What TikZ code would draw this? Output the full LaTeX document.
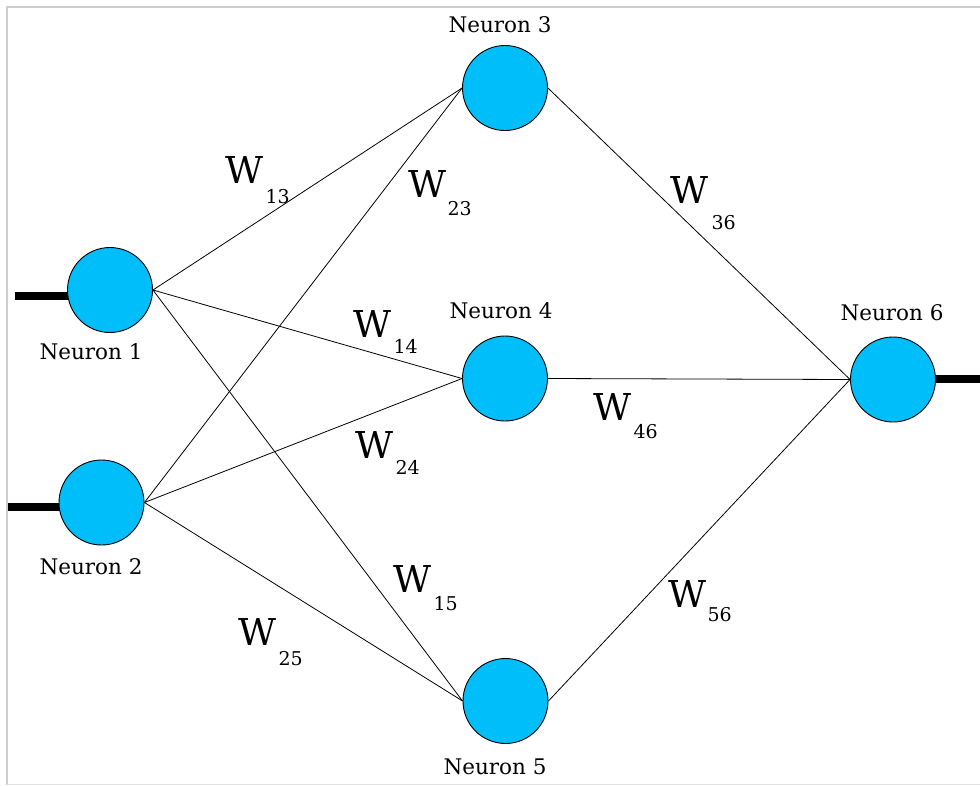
\documentclass[tikz,border=0pt]{standalone}
\usepackage{fontspec}
\newfontfamily\labelft{DejaVu Serif}
\pgfdeclarelayer{bg}
\pgfsetlayers{bg,main}
\definecolor{neuronblue}{RGB}{0,190,250}
\definecolor{frame}{RGB}{205,205,205}
\tikzset{
  neuron/.style={circle, draw=black, line width=0.9pt, fill=neuronblue, minimum size=85pt, inner sep=0pt},
  nlabel/.style={anchor=base, inner sep=0pt, font=\labelft\fontsize{21.5}{22}\selectfont},
  wmain/.style={anchor=base west, inner sep=0pt, font=\labelft\fontsize{37}{37}\selectfont},
  wsub/.style={anchor=base west, inner sep=0pt, font=\labelft\fontsize{19}{19}\selectfont},
  link/.style={draw=black, line width=0.8pt},
  iobar/.style={draw=black, line width=8pt},
  framerule/.style={draw=frame, line width=1.5pt}
}
\begin{document}
\begin{tikzpicture}[x=1pt, y=-1pt]
\useasboundingbox (0,0) rectangle (980,785);
% frame
\coordinate (f0) at (7,785);
\coordinate (f1) at (7,7);
\coordinate (f2) at (980,7);
\coordinate (f3) at (7,784);
\coordinate (f4) at (980,784);
\draw[framerule] (f0) -- (f1) -- (f2);
\draw[draw=frame!60, line width=1pt] (f3) -- (f4);
% neurons
\node[neuron] (n1) at (110,290) {};
\node[neuron] (n2) at (101.5,502.5) {};
\node[neuron] (n3) at (505,88) {};
\node[neuron] (n4) at (505,378.5) {};
\node[neuron] (n5) at (505.5,701) {};
\node[neuron] (n6) at (893,379.5) {};
% neuron labels
\node[nlabel] (l1) at (91,359) {Neuron 1};
\node[nlabel] (l2) at (91,574) {Neuron 2};
\node[nlabel] (l3) at (500,32) {Neuron 3};
\node[nlabel] (l4) at (501,318) {Neuron 4};
\node[nlabel] (l5) at (495,774) {Neuron 5};
\node[nlabel] (l6) at (892,320) {Neuron 6};
% input / output bars
\coordinate (in1) at (15,296);
\coordinate (in2) at (7,507);
\coordinate (out6) at (980,379);
\begin{pgfonlayer}{bg}
\draw[iobar] (in1) -- (in1 -| n1.center);
\draw[iobar] (in2) -- (in2 -| n2.center);
\draw[iobar] (out6) -- (out6 -| n6.center);
\end{pgfonlayer}
% connections
\draw[link] (n1.east) -- (n3.west);
\draw[link] (n1.east) -- (n4.west);
\draw[link] (n1.east) -- (n5.west);
\draw[link] (n2.east) -- (n3.west);
\draw[link] (n2.east) -- (n4.west);
\draw[link] (n2.east) -- (n5.west);
\draw[link] (n3.east) -- (n6.west);
\draw[link] (n4.east) -- (n6.west);
\draw[link] (n5.east) -- (n6.west);
% weight labels
\node[wmain] (w13) at (225,183) {W};
\node[wsub] (s13) at ([xshift=2pt,yshift=-20pt]w13.base east) {13};
\node[wmain] (w23) at (408,197) {W};
\node[wsub] (s23) at ([xshift=1pt,yshift=-18pt]w23.base east) {23};
\node[wmain] (w14) at (353,337) {W};
\node[wsub] (s14) at ([xshift=2pt,yshift=-16pt]w14.base east) {14};
\node[wmain] (w24) at (355,458) {W};
\node[wsub] (s24) at ([xshift=2pt,yshift=-16pt]w24.base east) {24};
\node[wmain] (w15) at (393,592) {W};
\node[wsub] (s15) at ([xshift=2pt,yshift=-18pt]w15.base east) {15};
\node[wmain] (w25) at (238,645) {W};
\node[wsub] (s25) at ([xshift=2pt,yshift=-20pt]w25.base east) {25};
\node[wmain] (w36) at (670,203) {W};
\node[wsub] (s36) at ([xshift=3pt,yshift=-26pt]w36.base east) {36};
\node[wmain] (w46) at (593,420) {W};
\node[wsub] (s46) at ([xshift=2pt,yshift=-18pt]w46.base east) {46};
\node[wmain] (w56) at (668,607) {W};
\node[wsub] (s56) at ([xshift=1pt,yshift=-14pt]w56.base east) {56};
\end{tikzpicture}
\end{document}
